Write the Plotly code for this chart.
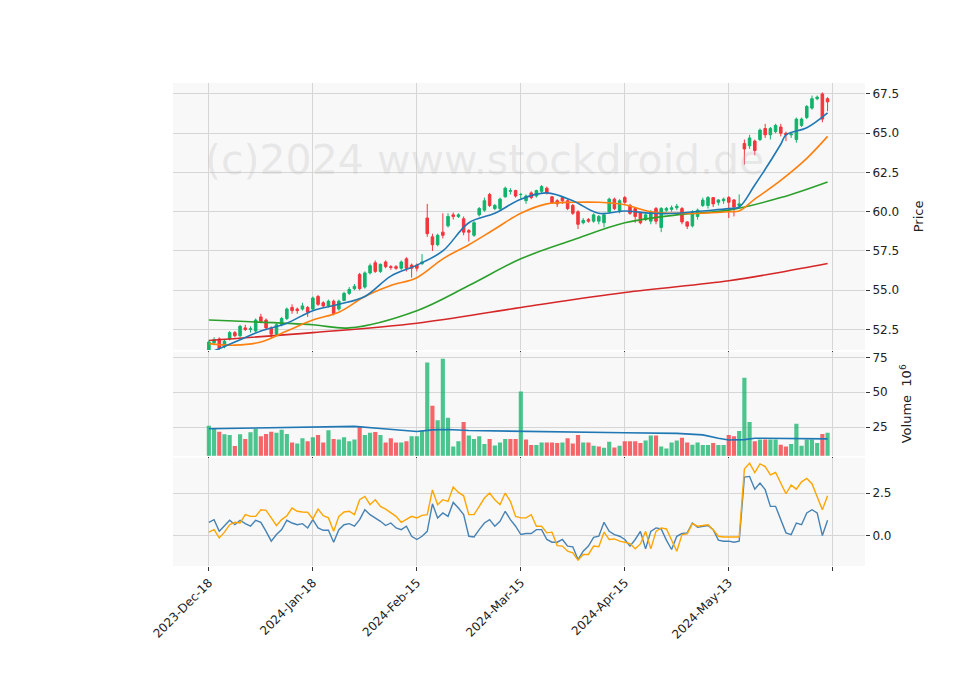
import plotly.graph_objects as go
from plotly.subplots import make_subplots

# --- data ---
dates = ["2023-Dec-18", "2024-Jan-18", "2024-Feb-15", "2024-Mar-15", "2024-Apr-15", "2024-May-13", ""]
tick_idx = [0, 20, 40, 60, 80, 100, 120]

opens = [51.1, 51.65, 51.9, 51.4, 51.9, 52.3, 52.1, 52.6, 52.5, 52.4,
         53.3, 53.1, 52.6, 52.2, 52.8, 53.2, 53.9, 53.8, 53.8, 53.9,
         53.8, 54.6, 54.2, 54.0, 54.3, 53.8, 54.35, 54.8, 55.1, 56.0,
         55.2, 56.1, 56.75, 56.2, 56.8, 56.5, 56.5, 56.4, 57.0, 56.6,
         56.6, 56.7, 59.6, 58.4, 57.9, 58.7, 59.1, 59.8, 59.7, 59.55,
         58.8, 58.5, 59.8, 60.1, 61.1, 60.2, 60.2, 60.95, 61.3, 61.35,
         61.1, 60.7, 61.2, 61.0, 61.3, 61.5, 60.95, 60.7, 60.9, 60.7,
         60.4, 60.0, 59.3, 59.5, 59.4, 59.4, 59.3, 60.0, 60.8, 60.0,
         60.9, 60.4, 60.2, 59.95, 59.5, 59.4, 60.2, 59.0, 60.1, 60.15,
         60.25, 60.2, 59.35, 59.1, 59.7, 60.4, 60.4, 60.9, 60.6, 60.7,
         60.9, 60.75, 60.4, 64.35, 64.2, 64.5, 64.6, 65.3, 64.9, 65.1,
         65.4, 65.0, 64.9, 64.6, 65.5, 66.0, 66.6, 67.2, 67.5, 67.2]
closes = [51.7, 51.85, 51.3, 51.75, 52.3, 52.1, 52.7, 52.5, 52.55, 53.1,
          53.0, 52.6, 52.2, 52.8, 53.2, 53.8, 53.7, 53.7, 54.0, 53.6,
          54.5, 54.1, 54.0, 54.3, 53.5, 54.3, 54.8, 55.05, 55.25, 55.1,
          56.1, 56.56, 56.2, 56.65, 56.5, 56.45, 56.4, 56.8, 56.4, 56.4,
          56.4, 56.8, 58.6, 57.9, 58.5, 58.5, 59.7, 59.7, 59.8, 58.7,
          58.7, 59.3, 60.2, 60.7, 60.4, 60.4, 60.8, 61.5, 61.35, 61.0,
          61.1, 61.0, 60.9, 61.35, 61.6, 61.2, 60.55, 60.5, 60.7, 60.2,
          59.9, 59.2, 59.45, 59.4, 59.8, 59.7, 59.8, 60.8, 60.2, 60.7,
          60.6, 59.9, 59.7, 59.3, 59.8, 60.0, 59.4, 60.2, 60.2, 60.25,
          60.35, 59.35, 59.08, 60.0, 60.1, 60.74, 60.9, 60.5, 60.75, 60.8,
          60.6, 60.3, 60.5, 64.0, 64.7, 63.9, 65.2, 64.9, 65.3, 65.5,
          65.0, 64.9, 64.95, 65.9, 65.9, 66.7, 67.2, 67.3, 65.9, 67.0]
highs = [51.8, 52.0, 52.0, 51.85, 52.4, 52.4, 52.8, 52.8, 52.7, 53.2,
         53.5, 53.2, 52.7, 52.9, 53.3, 53.9, 54.1, 53.9, 54.2, 54.0,
         54.6, 54.7, 54.3, 54.4, 54.4, 54.4, 54.9, 55.2, 55.4, 56.1,
         56.2, 56.7, 56.9, 56.7, 56.9, 56.6, 56.6, 56.9, 57.1, 56.7,
         56.7, 57.3, 60.5, 58.6, 58.6, 59.9, 59.9, 59.95, 59.9, 59.7,
         58.9, 59.4, 60.3, 60.9, 61.2, 60.5, 60.9, 61.6, 61.5, 61.4,
         61.2, 61.1, 61.3, 61.4, 61.7, 61.6, 61.0, 60.8, 61.0, 60.8,
         60.5, 60.1, 59.6, 59.6, 59.9, 59.8, 59.9, 60.9, 60.9, 60.8,
         61.0, 60.5, 60.3, 60.0, 59.9, 60.1, 60.3, 60.3, 60.3, 60.4,
         60.5, 60.3, 59.4, 60.1, 60.2, 60.9, 61.0, 60.9, 60.8, 60.9,
         61.0, 60.8, 61.1, 64.6, 64.9, 64.6, 65.3, 65.6, 65.4, 65.6,
         65.6, 65.1, 65.05, 66.0, 66.0, 66.8, 67.4, 67.4, 67.6, 67.3]
lows = [51.0, 51.5, 51.2, 51.3, 51.8, 52.0, 52.0, 52.4, 52.3, 52.3,
        52.9, 52.5, 51.9, 52.1, 52.7, 53.1, 53.5, 53.5, 53.7, 53.3,
        53.7, 54.0, 53.9, 53.9, 53.4, 53.7, 54.3, 54.7, 55.0, 55.0,
        55.1, 56.0, 56.1, 56.1, 56.4, 56.3, 56.3, 56.3, 56.2, 55.8,
        56.2, 56.6, 58.4, 57.5, 57.8, 58.3, 59.0, 59.5, 59.6, 58.5,
        58.1, 58.4, 59.7, 60.0, 60.3, 60.1, 60.1, 60.9, 61.1, 60.9,
        60.8, 60.5, 60.8, 60.9, 61.2, 61.1, 60.5, 60.3, 60.5, 60.1,
        59.8, 58.9, 59.2, 59.3, 59.3, 59.2, 59.0, 59.9, 60.1, 59.9,
        60.5, 59.8, 59.3, 59.2, 59.4, 59.2, 59.2, 58.7, 60.0, 60.0,
        60.1, 59.2, 58.9, 59.0, 59.5, 60.3, 60.2, 60.3, 60.4, 60.5,
        59.6, 59.7, 60.2, 63.0, 64.0, 63.6, 64.5, 64.7, 64.6, 65.0,
        64.8, 64.5, 64.7, 64.4, 65.4, 65.9, 66.5, 67.1, 65.7, 66.4]
volume = [26, 24.3, 21.6, 19.9, 19.4, 11.4, 19.9, 16.5, 21.3, 23.8,
          18.4, 20.1, 21.6, 20.9, 23.0, 20.1, 14.0, 13.3, 17.0, 14.8,
          17.7, 19.4, 14.0, 22.8, 16.5, 16.0, 17.7, 14.8, 16.0, 25.7,
          19.4, 20.9, 21.4, 19.4, 14.0, 17.0, 14.0, 14.0, 14.8, 18.4,
          18.4, 22.6, 71.3, 40.3, 29.9, 74.1, 31.6, 11.1, 14.8, 28.7,
          18.9, 16.5, 18.4, 12.8, 16.5, 11.8, 14.0, 16.5, 16.5, 16.5,
          50.6, 16.0, 12.1, 12.1, 14.0, 14.0, 14.0, 13.5, 14.0, 17.0,
          13.3, 19.4, 14.0, 14.0, 11.6, 11.1, 10.2, 14.5, 10.4, 11.6,
          14.8, 14.8, 14.8, 13.5, 15.3, 18.9, 18.9, 11.1, 9.7, 14.0,
          15.3, 17.4, 14.0, 12.3, 14.0, 12.1, 12.1, 13.5, 12.1, 12.1,
          19.4, 18.4, 22.1, 60.3, 28.7, 14.8, 16.0, 16.0, 16.0, 16.0,
          12.3, 11.1, 12.8, 27.4, 11.6, 16.0, 16.0, 13.5, 20.1, 20.9]

# moving averages
ma_blue_x = [0, 5, 10, 15, 20, 25, 30, 35, 40, 45, 50, 55, 60, 65, 70, 75, 80, 85, 90, 95, 100, 102, 105, 110, 111, 115, 119]
ma_blue_y = [51.0, 51.7, 52.4, 52.9, 53.7, 54.1, 54.6, 55.9, 56.6, 57.5, 59.3, 59.9, 60.8, 61.2, 60.7, 59.9, 60.05, 59.9, 59.9, 60.05, 60.2, 60.3, 61.7, 64.3, 64.9, 65.35, 66.3]
ma_orange_x = [0, 5, 10, 15, 20, 25, 30, 35, 40, 45, 50, 55, 60, 65, 70, 75, 80, 85, 90, 95, 100, 102, 105, 110, 115, 119]
ma_orange_y = [51.6, 51.5, 51.7, 52.4, 53.1, 53.6, 54.6, 55.3, 55.8, 57.0, 57.9, 58.9, 59.9, 60.5, 60.6, 60.6, 60.45, 60.0, 59.9, 59.9, 60.0, 60.05, 60.8, 62.0, 63.4, 64.8]
ma_green_x = [0, 20, 27, 40, 50, 60, 70, 80, 90, 100, 110, 119]
ma_green_y = [53.1, 52.8, 52.6, 53.7, 55.3, 57.0, 58.2, 59.3, 59.8, 60.1, 60.9, 61.9]
ma_red_x = [0, 20, 40, 60, 80, 100, 110, 119]
ma_red_y = [51.8, 52.3, 52.9, 53.9, 54.85, 55.6, 56.15, 56.7]
vol_ma_x = [0, 10, 20, 28, 33, 40, 43, 46, 50, 60, 70, 80, 90, 95, 98, 100, 103, 105, 119]
vol_ma_y = [23.8, 24.5, 25.2, 25.5, 24.0, 21.8, 23.0, 23.3, 22.5, 21.8, 21.6, 20.9, 20.5, 19.4, 17.0, 15.7, 16.0, 17.0, 16.5]

ind_blue = [0.78, 0.94, 0.25, 0.55, 0.90, 0.64, 0.90, 0.70, 0.55, 0.90,
            0.78, 0.25, -0.33, 0.06, 0.35, 0.90, 0.74, 0.64, 0.70, 0.45,
            0.94, 0.45, 0.31, 0.31, -0.39, 0.35, 0.64, 0.70, 0.55, 0.94,
            1.52, 1.23, 1.04, 0.84, 0.59, 0.74, 0.45, 0.35, 0.55, -0.04,
            -0.23, -0.04, 0.25, 1.87, 1.04, 1.33, 1.13, 1.95, 1.62, 1.23,
            -0.04, -0.08, 0.35, 0.74, 0.94, 0.55, 0.84, 1.43, 0.94, 0.55,
            0.06, 0.12, 0.12, 0.35, 0.35, -0.23, -0.39, -0.39, -0.23, -0.62,
            -0.66, -1.41, -0.92, -0.62, -0.10, -0.04, 0.78, 0.25, 0.06, -0.04,
            -0.23, -0.62, -0.23, 0.25, -0.78, 0.25, 0.45, 0.39, -0.27, -0.82,
            -0.04, 0.12, 0.16, 0.74, 0.49, 0.55, 0.59, 0.35, -0.27, -0.33,
            -0.33, -0.39, -0.33, 3.44, 3.48, 2.73, 3.09, 2.70, 1.72, 1.72,
            0.94, 0.16, 0.06, 0.74, 0.64, 1.33, 1.52, 1.33, 0.0, 0.90]
ind_orange = [0.20, 0.35, -0.14, 0.20, 0.64, 0.78, 0.74, 1.23, 1.13, 1.13,
              1.52, 1.48, 1.04, 0.59, 0.94, 1.17, 1.62, 1.43, 1.39, 1.37,
              0.98, 1.56, 1.17, 1.04, 0.25, 1.13, 1.39, 1.43, 1.23, 2.11,
              2.30, 1.82, 2.11, 1.72, 1.56, 1.33, 1.13, 0.78, 0.94, 1.13,
              1.04, 1.19, 1.23, 2.68, 1.82, 2.11, 2.01, 2.85, 2.54, 2.34,
              1.23, 1.23, 1.72, 2.21, 2.50, 2.11, 1.82, 2.50, 2.01, 1.13,
              1.04, 1.04, 1.23, 0.55, 0.55, 0.16, 0.20, -0.59, -0.62, -0.92,
              -1.02, -1.45, -1.11, -1.11, -0.62, -0.66, 0.20, -0.23, -0.20, -0.33,
              -0.39, -0.47, -0.78, -0.49, 0.25, -0.78, 0.25, 0.45, 0.39, -0.23,
              -0.92, 0.06, 0.10, 0.70, 0.55, 0.59, 0.64, 0.35, -0.04, -0.08,
              -0.08, -0.04, -0.08, 3.91, 4.26, 3.71, 4.22, 4.06, 3.57, 3.71,
              3.09, 2.46, 2.97, 2.73, 3.16, 3.36, 3.05, 2.27, 1.52, 2.34]

UP = "#11b36b"
DOWN = "#f4363c"
GRID = "#d6d6d6"
TXT = "#222222"

x = list(range(len(closes)))
vol_colors = ["rgba(17,179,107,0.75)" if i == 0 or closes[i] >= closes[i - 1] else "rgba(244,54,60,0.75)" for i in x]

fig = make_subplots(rows=3, cols=1, shared_xaxes=True, vertical_spacing=0.004,
                    row_heights=[0.557, 0.217, 0.226])

fig.add_trace(go.Candlestick(x=x, open=opens, high=highs, low=lows, close=closes,
                             increasing=dict(line=dict(color=UP, width=1), fillcolor=UP),
                             decreasing=dict(line=dict(color=DOWN, width=1), fillcolor=DOWN),
                             whiskerwidth=0, showlegend=False), row=1, col=1)
for mx, my, col in [(ma_red_x, ma_red_y, "#d62728"), (ma_green_x, ma_green_y, "#2ca02c"),
                    (ma_orange_x, ma_orange_y, "#ff7f0e"), (ma_blue_x, ma_blue_y, "#1f77b4")]:
    fig.add_trace(go.Scatter(x=mx, y=my, mode="lines", line=dict(color=col, width=1.6, shape="spline"),
                             showlegend=False), row=1, col=1)

fig.add_trace(go.Bar(x=x, y=volume, marker=dict(color=vol_colors, line=dict(width=0)),
                     width=0.8, base=0, showlegend=False), row=2, col=1)
fig.add_trace(go.Scatter(x=vol_ma_x, y=vol_ma_y, mode="lines", line=dict(color="#1f77b4", width=1.6),
                         showlegend=False), row=2, col=1)

fig.add_trace(go.Scatter(x=x, y=ind_blue, mode="lines", line=dict(color="#4682b4", width=1.4),
                         showlegend=False), row=3, col=1)
fig.add_trace(go.Scatter(x=x, y=ind_orange, mode="lines", line=dict(color="#ffa500", width=1.4),
                         showlegend=False), row=3, col=1)

axis_common = dict(showgrid=True, gridcolor=GRID, gridwidth=1, zeroline=False,
                   showline=False, ticks="outside", ticklen=4, tickcolor="#333", automargin=False,
                   tickfont=dict(family="DejaVu Sans", size=12, color=TXT))
for r in (1, 2, 3):
    fig.update_xaxes(range=[-6.9, 126.2], tickvals=tick_idx, ticktext=dates,
                     showticklabels=(r == 3), tickangle=-45, rangeslider_visible=False,
                     row=r, col=1, **axis_common)

fig.update_yaxes(side="right", range=[51.2, 68.2], tickvals=[52.5, 55, 57.5, 60, 62.5, 65, 67.5],
                 ticktext=["52.5", "55.0", "57.5", "60.0", "62.5", "65.0", "67.5"],
                 title=dict(text="Price", font=dict(family="DejaVu Sans", size=13, color=TXT)),
                 row=1, col=1, **axis_common)
fig.update_yaxes(side="right", range=[4.4, 79], tickvals=[25, 50, 75],
                 title=dict(text="Volume  10<sup>6</sup>", font=dict(family="DejaVu Sans", size=13, color=TXT)),
                 row=2, col=1, **axis_common)
fig.update_yaxes(side="right", range=[-1.79, 4.58], tickvals=[0, 2.5], ticktext=["0.0", "2.5"],
                 row=3, col=1, **axis_common)

fig.add_annotation(text="(c)2024 www.stockdroid.de", xref="paper", yref="paper", x=0.45, y=0.895,
                   showarrow=False, font=dict(family="DejaVu Sans", size=41, color="rgba(190,190,190,0.3)"))

# the page puts the figure 8px in from the corner, so shift margins to compensate
fig.update_layout(width=960, height=690, margin=dict(l=165, r=103, t=75, b=132),
                  paper_bgcolor="white", plot_bgcolor="#f8f8f8", bargap=0.2)

fig.write_html("out.html")
